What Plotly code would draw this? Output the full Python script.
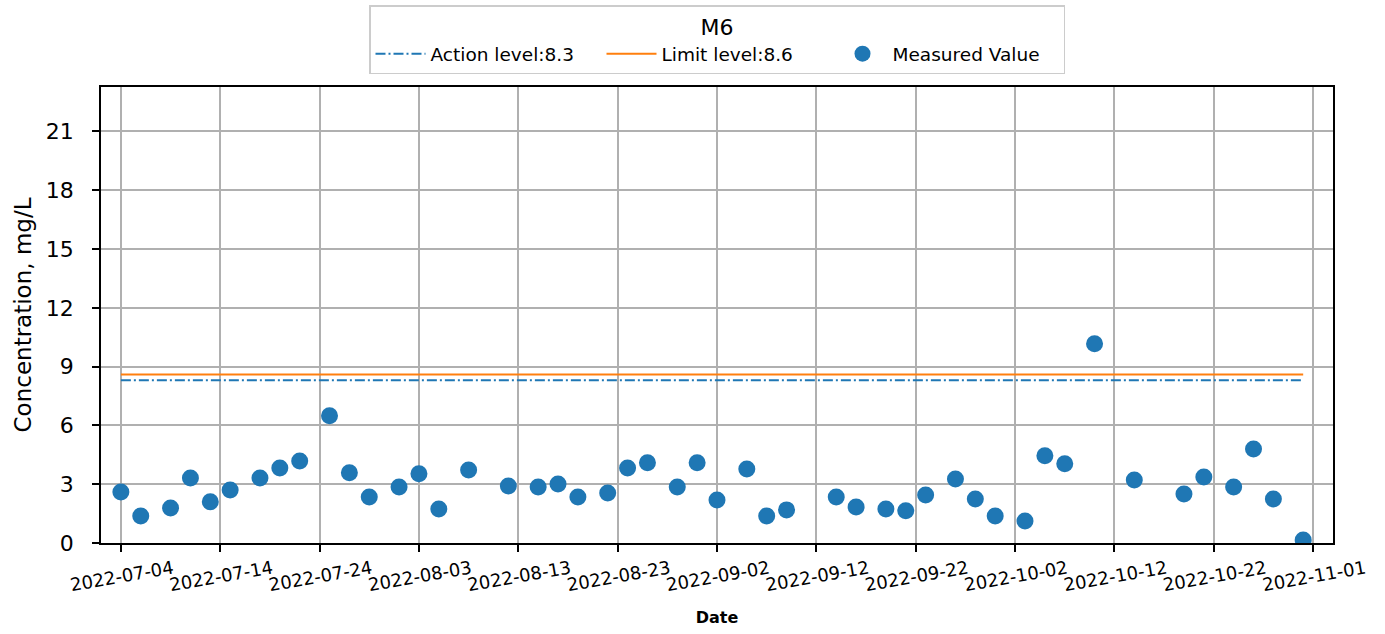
import plotly.graph_objects as go

dates = ["2022-07-04","2022-07-06","2022-07-09","2022-07-11","2022-07-13","2022-07-15",
         "2022-07-18","2022-07-20","2022-07-22","2022-07-25","2022-07-27","2022-07-29",
         "2022-08-01","2022-08-03","2022-08-05","2022-08-08","2022-08-12","2022-08-15",
         "2022-08-17","2022-08-19","2022-08-22","2022-08-24","2022-08-26","2022-08-29",
         "2022-08-31","2022-09-02","2022-09-05","2022-09-07","2022-09-09","2022-09-14",
         "2022-09-16","2022-09-19","2022-09-21","2022-09-23","2022-09-26","2022-09-28",
         "2022-09-30","2022-10-03","2022-10-05","2022-10-07","2022-10-10","2022-10-14",
         "2022-10-19","2022-10-21","2022-10-24","2022-10-26","2022-10-28","2022-10-31"]
values = [2.6,1.38,1.79,3.32,2.1,2.7,
          3.32,3.83,4.19,6.49,3.58,2.35,
          2.86,3.53,1.74,3.73,2.91,2.86,
          3.01,2.35,2.55,3.83,4.09,2.86,
          4.09,2.2,3.78,1.38,1.69,2.35,
          1.84,1.74,1.64,2.45,3.27,2.25,
          1.38,1.12,4.45,4.04,10.17,3.22,
          2.5,3.37,2.86,4.8,2.25,0.15]
action_level = 8.3
limit_level = 8.6
tick_dates = ["2022-07-04","2022-07-14","2022-07-24","2022-08-03","2022-08-13","2022-08-23",
              "2022-09-02","2022-09-12","2022-09-22","2022-10-02","2022-10-12","2022-10-22",
              "2022-11-01"]
y_ticks = [0,3,6,9,12,15,18,21]

FONT = "DejaVu Sans"
line_x = [dates[0], dates[-1]]

fig = go.Figure()
fig.add_trace(go.Scatter(x=line_x, y=[action_level]*2, mode="lines",
                         name=f"Action level:{action_level}",
                         line=dict(color="#1f77b4", width=2, dash="10px,3px,2px,3px")))
fig.add_trace(go.Scatter(x=line_x, y=[limit_level]*2, mode="lines",
                         name=f"Limit level:{limit_level}",
                         line=dict(color="#ff7f0e", width=2)))
fig.add_trace(go.Scatter(x=dates, y=values, mode="markers", name="Measured Value",
                         marker=dict(color="#1f77b4", size=17)))

axis_common = dict(showline=True, linecolor="black", linewidth=1.5, mirror=True,
                   showgrid=True, gridcolor="#b0b0b0", gridwidth=1.5,
                   ticks="outside", ticklen=7, tickwidth=1.5, tickcolor="black",
                   zeroline=False)

fig.update_layout(
    width=1385, height=634,
    paper_bgcolor="white", plot_bgcolor="white",
    margin=dict(l=101, r=52, t=87, b=91, autoexpand=False),
    font=dict(family=FONT, color="black"),
    showlegend=True,
    legend=dict(orientation="h", x=0.5, xanchor="center", y=1.0285, yanchor="bottom",
                bordercolor="#cccccc", borderwidth=1.5, bgcolor="white",
                font=dict(size=18.5, family=FONT),
                title=dict(text="M6", side="top center", font=dict(size=22, family=FONT)),
                itemwidth=50, entrywidth=166, entrywidthmode="pixels"),
    xaxis=dict(**axis_common, type="date",
               range=["2022-07-02", "2022-11-03"],
               tickvals=tick_dates, ticktext=tick_dates,
               tickangle=-10, tickfont=dict(size=18, family=FONT),
               ticklabelshift=52,
               title=dict(text="<b>Date</b>", font=dict(size=16, family=FONT), standoff=17)),
    yaxis=dict(**axis_common, range=[0, 23.27], tickvals=y_ticks,
               tickfont=dict(size=22, family=FONT), ticklabelstandoff=14,
               title=dict(text="Concentration, mg/L", font=dict(size=23, family=FONT), standoff=8)),
)

fig.write_html("out.html", config={"displayModeBar": False},
               post_script="document.body.style.margin='0px';")
